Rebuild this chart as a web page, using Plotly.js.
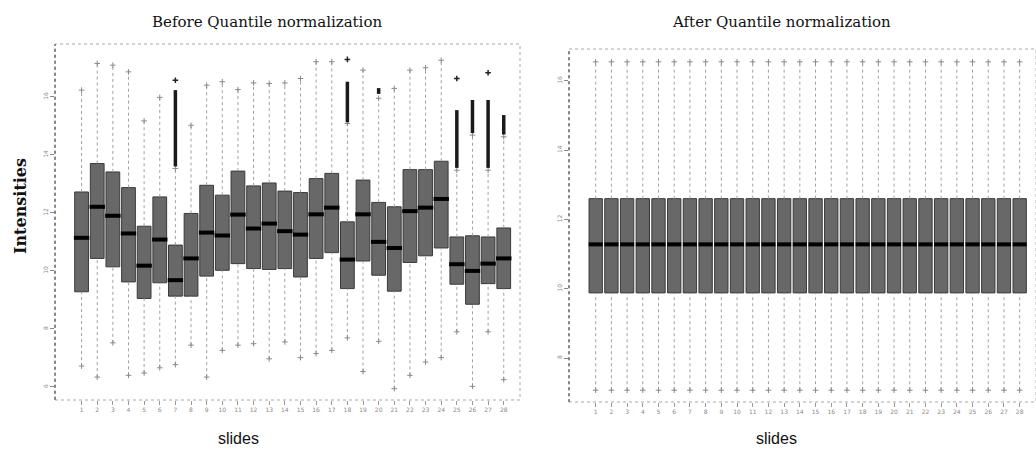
<!DOCTYPE html>
<html>
<head>
<meta charset="utf-8">
<script src="https://cdn.plot.ly/plotly-3.0.1.min.js"></script>
<style>
  html, body { margin: 0; padding: 0; background: #fff; }
  #chart { width: 1036px; height: 449px; }
</style>
</head>
<body>
<div id="chart"></div>
<script>
// Slide (array) numbers
const slides = [1,2,3,4,5,6,7,8,9,10,11,12,13,14,15,16,17,18,19,20,21,22,23,24,25,26,27,28];

// Raw log2 intensities: box statistics per slide
const beforeQ1     = [9.28,10.43,10.14,9.62,9.05,9.59,9.13,9.13,9.82,10.02,10.25,10.08,10.05,10.08,9.79,10.43,10.63,9.39,10.34,9.85,9.30,10.29,10.52,10.79,9.54,8.85,9.56,9.39];
const beforeMedian = [11.14,12.21,11.90,11.29,10.18,11.08,9.68,10.43,11.32,11.22,11.94,11.46,11.63,11.37,11.25,11.95,12.18,10.39,11.95,11.00,10.79,12.06,12.18,12.48,10.23,10.00,10.25,10.43];
const beforeQ3     = [12.72,13.70,13.41,12.87,11.54,12.55,10.89,11.98,12.95,12.61,13.44,12.93,13.03,12.75,12.70,13.18,13.36,11.69,13.13,12.36,12.21,13.49,13.49,13.78,11.17,11.21,11.17,11.48];
const beforeLow    = [6.72,6.34,7.52,6.40,6.48,6.66,6.77,7.44,6.34,7.26,7.44,7.49,6.97,7.55,7.01,7.15,7.26,7.69,6.53,7.57,5.94,6.40,6.86,7.01,7.90,6.02,7.90,6.25];
const beforeHigh   = [16.23,17.15,17.09,16.86,15.17,15.98,13.53,15.02,16.40,16.52,16.25,16.48,16.46,16.48,16.63,17.21,17.21,15.08,16.92,15.95,16.29,16.92,17.00,17.26,13.47,14.68,13.47,14.62];
// Outliers above the upper whisker: dense run (from/to) and the single highest value
const outlierFrom  = [null,null,null,null,null,null,13.60,null,null,null,null,null,null,null,null,null,null,15.12,null,16.10,null,null,null,null,13.55,14.75,13.55,14.70];
const outlierTo    = [null,null,null,null,null,null,16.23,null,null,null,null,null,null,null,null,null,null,16.52,null,16.30,null,null,null,null,15.54,15.89,15.89,15.37];
const outlierMax   = [null,null,null,null,null,null,16.57,null,null,null,null,null,null,null,null,null,null,17.29,null,null,null,null,null,null,16.63,null,16.83,null];

// Quantile-normalized intensities: box statistics per slide
const afterQ1     = [9.88,9.88,9.88,9.88,9.88,9.88,9.88,9.88,9.88,9.88,9.88,9.88,9.88,9.88,9.88,9.88,9.88,9.88,9.88,9.88,9.88,9.88,9.88,9.88,9.88,9.88,9.88,9.88];
const afterMedian = [11.28,11.28,11.28,11.28,11.28,11.28,11.28,11.28,11.28,11.28,11.28,11.28,11.28,11.28,11.28,11.28,11.28,11.28,11.28,11.28,11.28,11.28,11.28,11.28,11.28,11.28,11.28,11.28];
const afterQ3     = [12.60,12.60,12.60,12.60,12.60,12.60,12.60,12.60,12.60,12.60,12.60,12.60,12.60,12.60,12.60,12.60,12.60,12.60,12.60,12.60,12.60,12.60,12.60,12.60,12.60,12.60,12.60,12.60];
const afterLow    = [7.07,7.07,7.07,7.07,7.07,7.07,7.07,7.07,7.07,7.07,7.07,7.07,7.07,7.07,7.07,7.07,7.07,7.07,7.07,7.07,7.07,7.07,7.07,7.07,7.07,7.07,7.07,7.07];
const afterHigh   = [16.55,16.55,16.55,16.55,16.55,16.55,16.55,16.55,16.55,16.55,16.55,16.55,16.55,16.55,16.55,16.55,16.55,16.55,16.55,16.55,16.55,16.55,16.55,16.55,16.55,16.55,16.55,16.55];

// Axis ticks
const beforeTicks = [6, 8, 10, 12, 14, 16];
const afterTicks  = [8, 10, 12, 14, 16];

const BOX_FILL = '#686868';
const BOX_LINE = '#3a3a3a';
const WHISK = '#a0a0a0';

// Dotted whiskers from each box edge out to its extreme value
function whiskerTrace(q1, q3, lo, hi, xa, ya) {
  const x = [], y = [];
  slides.forEach((s, i) => {
    x.push(s, s, null, s, s, null);
    y.push(lo[i], q1[i], null, q3[i], hi[i], null);
  });
  return { type: 'scatter', mode: 'lines', x, y, xaxis: xa, yaxis: ya,
    line: { color: WHISK, width: 1, dash: 'dot' }, hoverinfo: 'skip', showlegend: false };
}
function stapleTrace(lo, hi, xa, ya) {
  const x = [], y = [];
  slides.forEach((s, i) => { x.push(s, s); y.push(lo[i], hi[i]); });
  return { type: 'scatter', mode: 'markers', x, y, xaxis: xa, yaxis: ya,
    marker: { symbol: 'cross-thin', size: 4, line: { color: '#8a8a8a', width: 1 } },
    hoverinfo: 'skip', showlegend: false };
}
function boxTrace(q1, med, q3, xa, ya, w) {
  return { type: 'box', x: slides, q1: q1, median: med, q3: q3,
    lowerfence: q1, upperfence: q3, xaxis: xa, yaxis: ya, width: w,
    fillcolor: BOX_FILL, line: { color: BOX_LINE, width: 1 }, whiskerwidth: 0,
    boxpoints: false, hoverinfo: 'skip', showlegend: false };
}
function medianTrace(med, xa, ya, size) {
  return { type: 'scatter', mode: 'markers', x: slides, y: med, xaxis: xa, yaxis: ya,
    marker: { symbol: 'line-ew', size: size, line: { color: '#000', width: 4 } },
    hoverinfo: 'skip', showlegend: false };
}

// Dense outlier runs as thick dark columns, plus the highest single outliers
const runX = [], runY = [];
slides.forEach((s, i) => {
  if (outlierFrom[i] !== null) { runX.push(s, s, null); runY.push(outlierFrom[i], outlierTo[i], null); }
});
const maxX = [], maxY = [];
slides.forEach((s, i) => { if (outlierMax[i] !== null) { maxX.push(s); maxY.push(outlierMax[i]); } });

const traces = [
  whiskerTrace(beforeQ1, beforeQ3, beforeLow, beforeHigh, 'x', 'y'),
  stapleTrace(beforeLow, beforeHigh, 'x', 'y'),
  boxTrace(beforeQ1, beforeMedian, beforeQ3, 'x', 'y', 0.88),
  medianTrace(beforeMedian, 'x', 'y', 11),
  { type: 'scatter', mode: 'lines', x: runX, y: runY, xaxis: 'x', yaxis: 'y',
    line: { color: '#1a1a1a', width: 3.5 }, hoverinfo: 'skip', showlegend: false },
  { type: 'scatter', mode: 'markers', x: maxX, y: maxY, xaxis: 'x', yaxis: 'y',
    marker: { symbol: 'cross-thin', size: 4, line: { color: '#222', width: 1.5 } },
    hoverinfo: 'skip', showlegend: false },

  whiskerTrace(afterQ1, afterQ3, afterLow, afterHigh, 'x2', 'y2'),
  stapleTrace(afterLow, afterHigh, 'x2', 'y2'),
  boxTrace(afterQ1, afterMedian, afterQ3, 'x2', 'y2', 0.85),
  medianTrace(afterMedian, 'x2', 'y2', 10)
];

const tickFont = { family: 'DejaVu Sans', size: 6, color: '#8a8a8a' };
const L = { x0: 55 / 1036, x1: 520 / 1036, y0: 1 - 400 / 449, y1: 1 - 44 / 449 };
const R = { x0: 569 / 1036, x1: 1.0, y0: 1 - 402 / 449, y1: 1 - 49 / 449 };

function xAxis(dom, anchor) {
  return { domain: dom, anchor: anchor, range: [-0.7, 29.04], tickvals: slides, ticktext: slides.map(String),
    ticks: 'outside', ticklen: 4, tickcolor: '#999', tickfont: tickFont, showgrid: false,
    zeroline: false, showline: false, fixedrange: true };
}
function yAxis(dom, anchor, range, ticks) {
  return { domain: dom, anchor: anchor, range: range, tickvals: ticks, ticktext: ticks.map(String),
    ticks: 'outside', ticklen: 4, tickcolor: '#888', tickfont: tickFont, tickangle: -90,
    showgrid: false, zeroline: false, showline: false, fixedrange: true };
}

function frame(b, edge) {
  return [
    { type: 'rect', xref: 'paper', yref: 'paper', x0: b.x0, x1: b.x1, y0: b.y0, y1: b.y1,
      line: { color: '#a8a8a8', width: 1, dash: 'dot' } },
    { type: 'line', xref: 'paper', yref: 'paper', x0: b.x0, x1: b.x0, y0: b.y0, y1: b.y1,
      line: { color: edge, width: 1.2, dash: 'dot' } }
  ];
}

const layout = {
  width: 1036, height: 449,
  margin: { l: 0, r: 0, t: 0, b: 0 },
  paper_bgcolor: '#ffffff', plot_bgcolor: '#ffffff',
  showlegend: false,
  xaxis: xAxis([L.x0, L.x1], 'y'),
  yaxis: yAxis([L.y0, L.y1], 'x', [5.55, 17.82], beforeTicks),
  xaxis2: xAxis([R.x0, R.x1], 'y2'),
  yaxis2: yAxis([R.y0, R.y1], 'x2', [6.73, 16.92], afterTicks),
  shapes: [].concat(frame(L, '#555'), frame(R, '#555')),
  annotations: [
    { text: 'Before Quantile normalization', xref: 'paper', yref: 'paper',
      x: 267 / 1036, y: 1 - 22 / 449, showarrow: false, xanchor: 'center', yanchor: 'middle',
      font: { family: 'DejaVu Serif', size: 15, color: '#111' } },
    { text: 'After Quantile normalization', xref: 'paper', yref: 'paper',
      x: 781 / 1036, y: 1 - 22 / 449, showarrow: false, xanchor: 'center', yanchor: 'middle',
      font: { family: 'DejaVu Serif', size: 15, color: '#111' } },
    { text: '<b>Intensities</b>', xref: 'paper', yref: 'paper',
      x: 20 / 1036, y: 1 - 206 / 449, showarrow: false, textangle: -90, xanchor: 'center', yanchor: 'middle',
      font: { family: 'DejaVu Serif', size: 16, color: '#111' } },
    { text: 'slides', xref: 'paper', yref: 'paper',
      x: 238 / 1036, y: 1 - 438 / 449, showarrow: false, xanchor: 'center', yanchor: 'middle',
      font: { family: 'Liberation Sans', size: 16, color: '#111' } },
    { text: 'slides', xref: 'paper', yref: 'paper',
      x: 776 / 1036, y: 1 - 438 / 449, showarrow: false, xanchor: 'center', yanchor: 'middle',
      font: { family: 'Liberation Sans', size: 16, color: '#111' } }
  ]
};

Plotly.newPlot('chart', traces, layout, { displayModeBar: false, staticPlot: true });
</script>
</body>
</html>
